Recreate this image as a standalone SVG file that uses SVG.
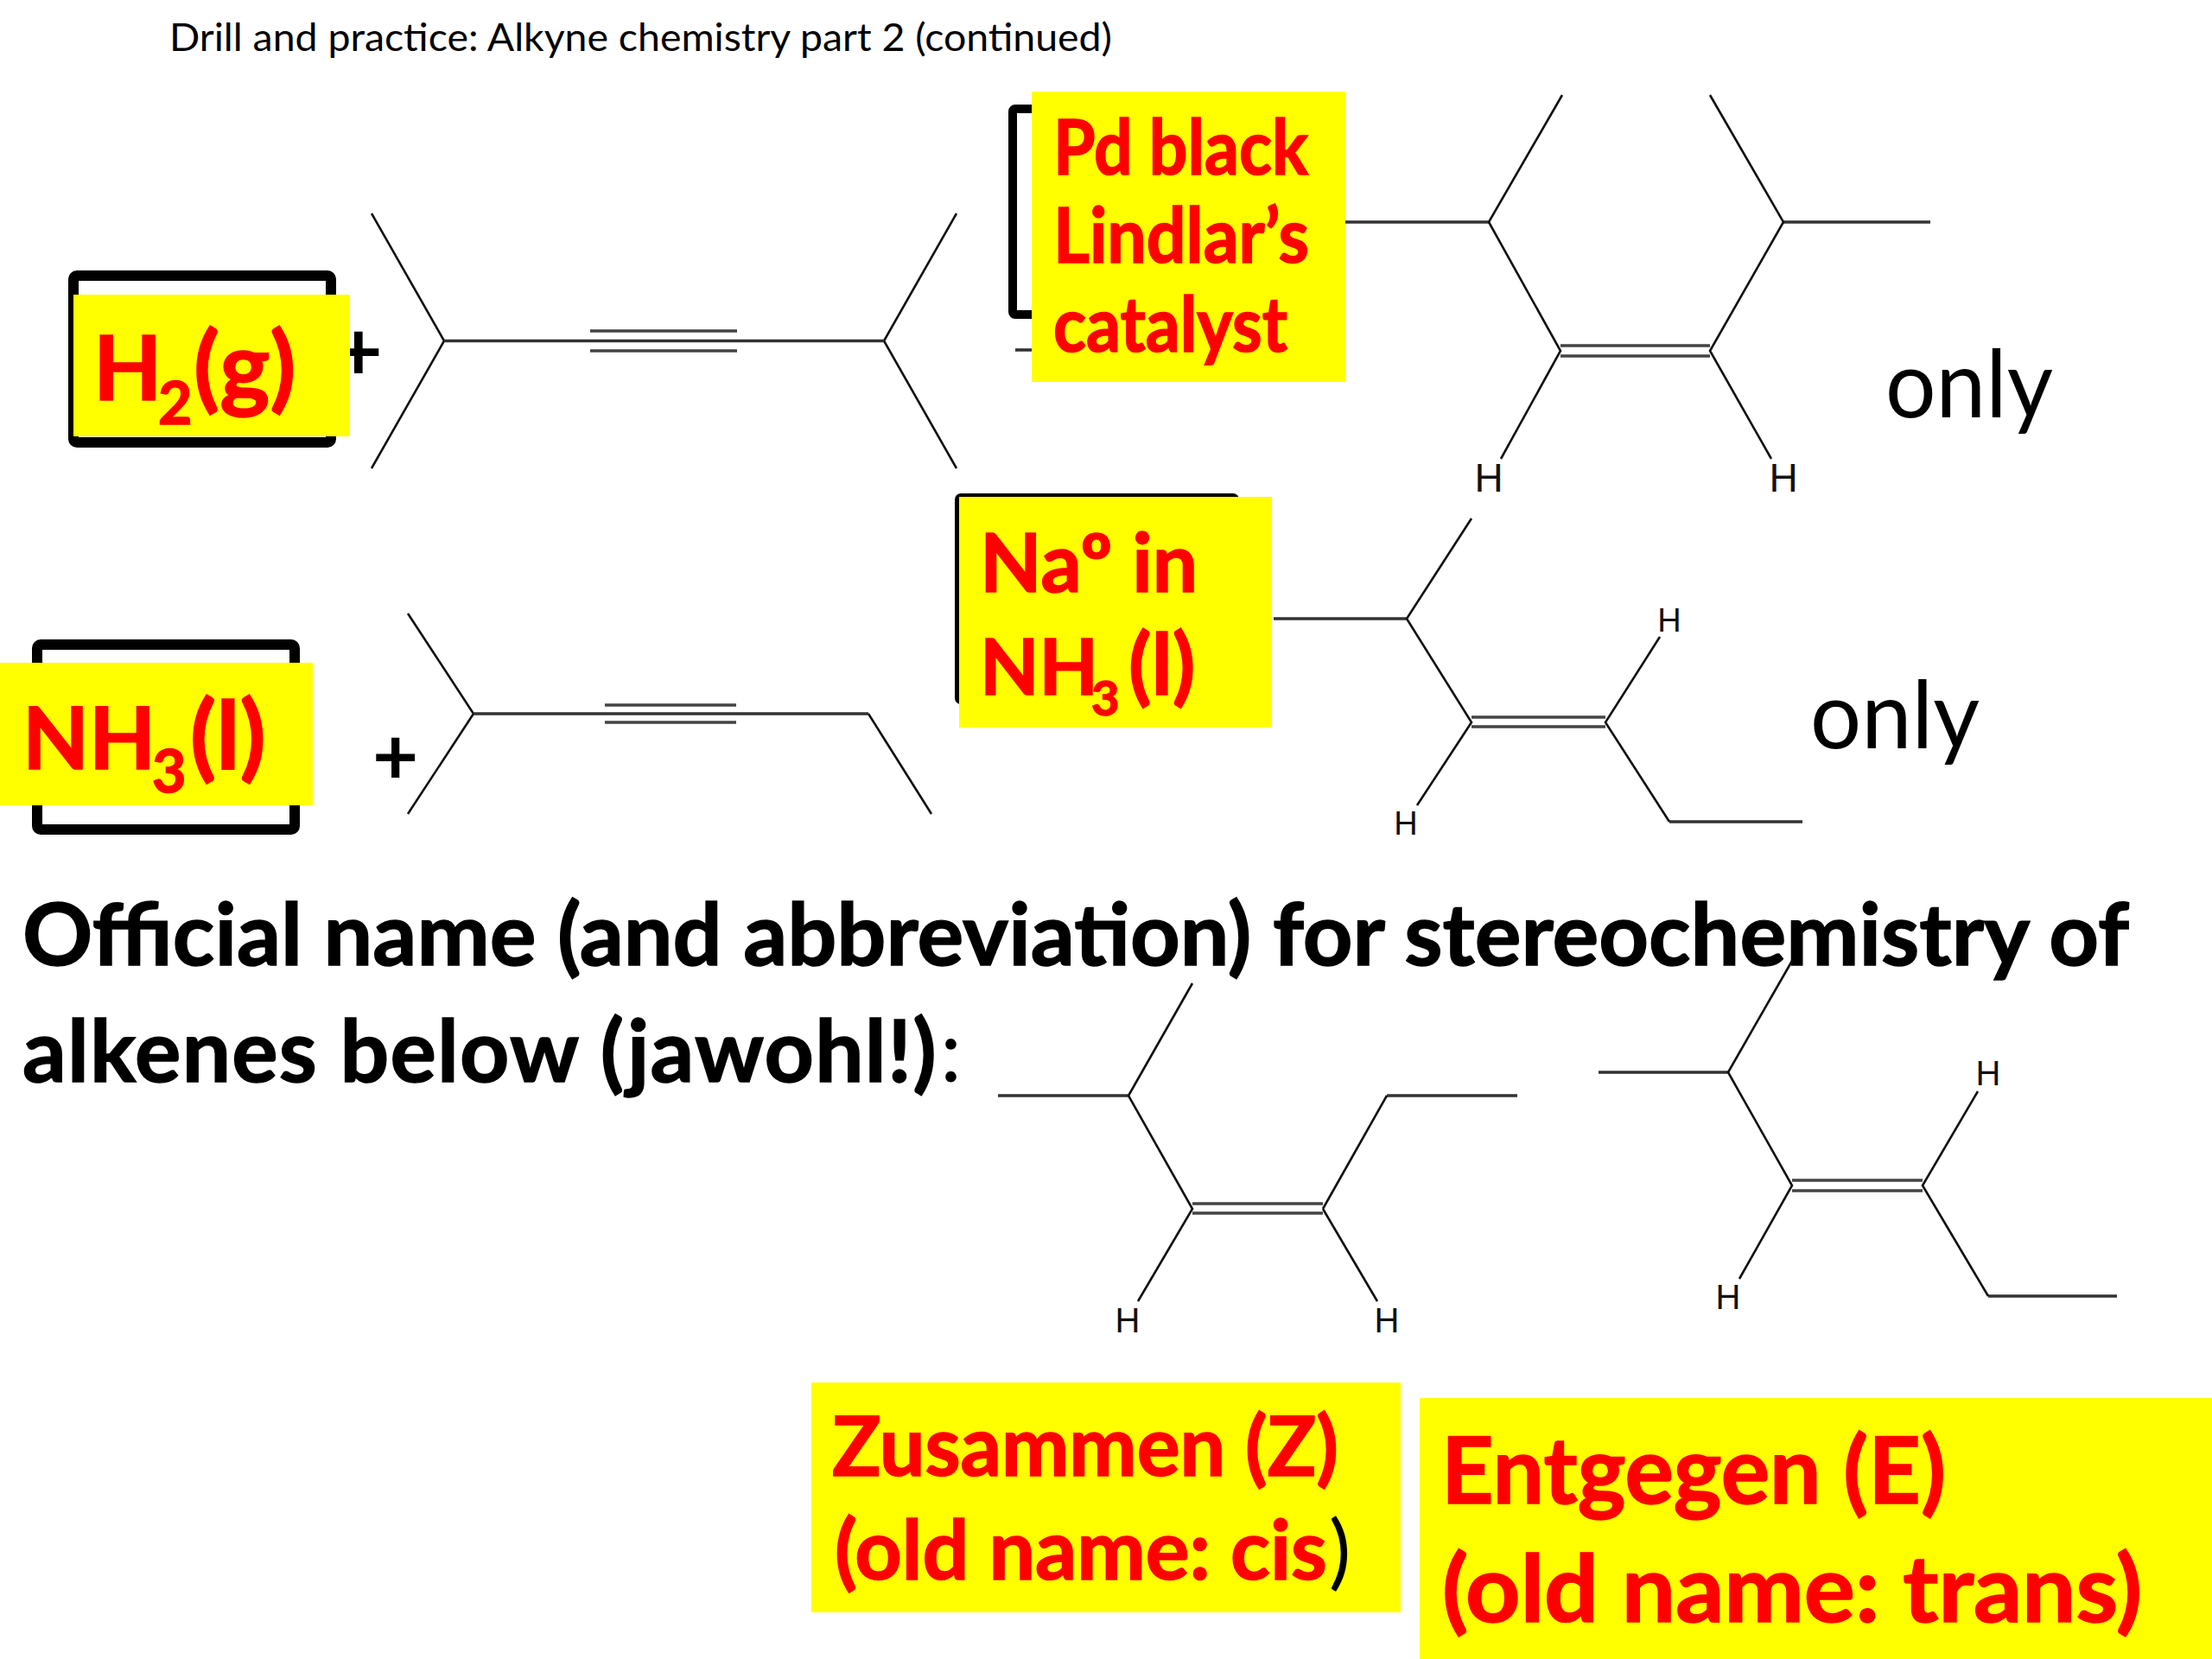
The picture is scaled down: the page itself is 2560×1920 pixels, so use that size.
<svg xmlns="http://www.w3.org/2000/svg" width="2560" height="1920" viewBox="0 0 2560 1920">
<style>
text{font-family:"Lato","Carlito","Open Sans",sans-serif}
.red{fill:#ff0000;font-weight:700;stroke:#ff0000;stroke-width:1.6}
.blk{fill:#000;font-weight:700;stroke:#000;stroke-width:1.4}
.reg{fill:#000;font-weight:400;stroke:none}
.plus{fill:#000;font-weight:700}
.yel{fill:#ffff00;stroke:none}
.frame{fill:none;stroke:#000;stroke-linejoin:round}
.b{fill:none;stroke:#111;stroke-width:2.6}
.h{fill:none;stroke:#333;stroke-width:3.6}
.d{fill:none;stroke:#444;stroke-width:3.6}
.H{font-family:"Liberation Sans",Arial,sans-serif;fill:#111;text-anchor:middle}
</style>
<rect width="2560" height="1920" fill="#fff"/>
<text id="title" class="reg" x="196" y="59" font-size="45" textLength="1091" lengthAdjust="spacingAndGlyphs">Drill and practice: Alkyne chemistry part 2 (continued)</text>

<g id="reagent-h2">
<text class="plus" x="387" y="440" font-size="96">+</text>
<rect class="frame" x="85" y="319" width="298" height="193" rx="4" stroke-width="12"/>
<rect class="yel" x="85" y="341" width="320" height="164"/>
<text class="red" x="108" y="463" font-size="103">H<tspan x="183" y="491" font-size="68">2</tspan><tspan x="224" y="463" font-size="110">(g)</tspan></text>
</g>

<g id="alkyne-1">
<path class="b" d="M430 247L514 394.5L430 542M1107 247L1023 394.5L1107 542"/>
<path class="h" d="M514 394.5H1023"/>
<path class="d" d="M683 383H853M683 406H853"/>
</g>

<g id="reagent-pd">
<path class="h" d="M1175 405H1200"/>
<rect class="frame" x="1172" y="126" width="80" height="238" rx="3" stroke-width="10"/>
<rect class="yel" x="1194" y="106" width="363" height="336"/>
<text class="red" x="1219" y="202" font-size="88" textLength="295" lengthAdjust="spacingAndGlyphs">Pd black</text>
<text class="red" x="1219" y="304" font-size="88" textLength="296" lengthAdjust="spacingAndGlyphs">Lindlar’s</text>
<text class="red" x="1219" y="407" font-size="88" textLength="271" lengthAdjust="spacingAndGlyphs">catalyst</text>
</g>

<g id="product-1">
<path class="h" d="M1557 257H1723M2064 257H2234"/>
<path class="b" d="M1808 110L1723 257L1806 406L1737 531M1979 110L2064 257L1979 406L2050 531"/>
<path class="d" d="M1806 400H1979M1806 412H1979"/>
<text class="H" x="1723" y="569" font-size="46">H</text>
<text class="H" x="2064" y="569" font-size="46">H</text>
</g>
<text id="only-1" class="reg" x="2182" y="483" font-size="108" textLength="194" lengthAdjust="spacingAndGlyphs">only</text>

<g id="reagent-nh3">
<rect class="frame" x="43" y="746" width="298" height="214" rx="4" stroke-width="12"/>
<rect class="yel" x="0" y="767" width="362" height="165"/>
<text class="red" x="26" y="890" font-size="100">NH<tspan x="176" y="917" font-size="68">3</tspan><tspan x="220" y="890" font-size="110">(l)</tspan></text>
</g>
<text id="plus-2" class="plus" x="431" y="908" font-size="92">+</text>

<g id="alkyne-2">
<path class="b" d="M472 710L548 826L472 942M1005 826L1078 942"/>
<path class="h" d="M548 826H1005"/>
<path class="d" d="M700 816H852M700 836H852"/>
</g>

<g id="reagent-na">
<rect class="frame" x="1108" y="574" width="323" height="238" rx="4" stroke-width="6"/>
<rect class="yel" x="1110" y="575" width="362" height="267"/>
<text class="red" font-size="93"><tspan x="1134" y="685">Naº in</tspan><tspan x="1134" y="804" font-size="89">NH</tspan><tspan x="1263" y="828" font-size="56">3</tspan><tspan x="1306" y="804" font-size="97">(l)</tspan></text>
</g>

<g id="product-2">
<path class="h" d="M1474 716H1628M1932 951H2086"/>
<path class="b" d="M1703 600L1628 716L1703 836L1640 932M1921 737L1858 836L1932 951"/>
<path class="d" d="M1703 830H1858M1703 841H1858"/>
<text class="H" x="1932" y="731" font-size="38">H</text>
<text class="H" x="1627" y="966" font-size="38">H</text>
</g>
<text id="only-2" class="reg" x="2095" y="866" font-size="108" textLength="196" lengthAdjust="spacingAndGlyphs">only</text>

<text id="heading-1" class="blk" x="26" y="1117" font-size="100" textLength="2438" lengthAdjust="spacingAndGlyphs">Official name (and abbreviation) for stereochemistry of</text>
<text id="heading-2" class="blk" x="26" y="1252" font-size="100" letter-spacing="1.2">alkenes below (jawohl!)<tspan class="reg" x="1088">:</tspan></text>

<g id="alkene-z">
<path class="h" d="M1155 1268H1306M1605 1268H1756"/>
<path class="b" d="M1380 1138L1306 1268L1380 1399L1317 1506M1531 1399L1605 1268M1531 1399L1594 1506"/>
<path class="d" d="M1380 1393H1531M1380 1404H1531"/>
<text class="H" x="1305" y="1542" font-size="40">H</text>
<text class="H" x="1605" y="1542" font-size="40">H</text>
</g>

<g id="alkene-e">
<path class="h" d="M1850 1241H2000M2301 1500H2450"/>
<path class="b" d="M2074 1112L2000 1241L2074 1372L2013 1480M2289 1263L2225 1372L2301 1500"/>
<path class="d" d="M2074 1366H2225M2074 1378H2225"/>
<text class="H" x="2301" y="1256" font-size="40">H</text>
<text class="H" x="2000" y="1515" font-size="40">H</text>
</g>

<g id="answer-z">
<rect class="yel" x="939" y="1600" width="682" height="266"/>
<text class="red" x="963" y="1708" font-size="95" textLength="586" lengthAdjust="spacingAndGlyphs">Zusammen (Z)</text>
<text class="red" x="966" y="1828" font-size="95">(old name: cis<tspan class="reg" x="1538">)</tspan></text>
</g>

<g id="answer-e">
<rect class="yel" x="1643" y="1618" width="917" height="302"/>
<text class="red" x="1668" y="1740" font-size="108" textLength="584" lengthAdjust="spacingAndGlyphs">Entgegen (E)</text>
<text class="red" x="1669" y="1877" font-size="108" textLength="810" lengthAdjust="spacingAndGlyphs">(old name: trans)</text>
</g>
</svg>
